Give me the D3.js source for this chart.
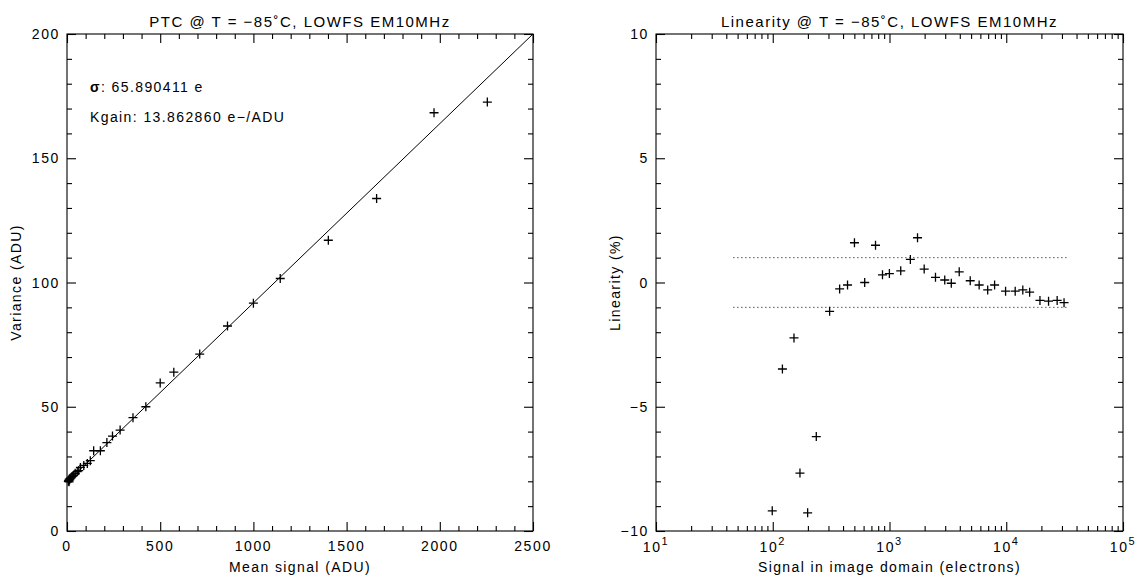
<!DOCTYPE html>
<html><head><meta charset="utf-8">
<script src="https://cdn.jsdelivr.net/npm/d3@7"></script>
<style>
body{margin:0;background:#fff}
text{font-family:"Liberation Sans",Arial,sans-serif;fill:#000}
</style>
</head><body>
<svg id="c" width="1141" height="578"></svg>
<script>
// ---- data ----
const ptcMean = [7.1, 8.7, 11.0, 12.3, 14.4, 17.0, 22.0, 27.0, 31.5, 36.0, 44.0, 55.0, 63.0, 72.0, 90.0, 109, 125, 143, 179, 214, 244, 285, 354, 423, 500, 573, 712, 861, 1000, 1144, 1402, 1661, 1969, 2255];
const ptcVar = [20.0, 20.4, 19.8, 20.9, 20.6, 21.2, 21.4, 21.9, 22.1, 22.5, 23.2, 23.9, 24.3, 25.6, 26.4, 27.2, 28.3, 32.3, 32.3, 35.6, 38.2, 40.6, 45.6, 50.0, 59.6, 63.9, 71.2, 82.5, 91.7, 101.6, 117.0, 133.8, 168.3, 172.6];
const linSignal = [99, 121, 152, 171, 199, 236, 307, 374, 437, 501, 613, 759, 871, 998, 1248, 1509, 1738, 1982, 2477, 2973, 3383, 3955, 4914, 5859, 6936, 7947, 9867, 11930, 13860, 15860, 19440, 23030, 27290, 31260];
const linPct = [-9.19, -3.48, -2.23, -7.67, -9.27, -6.2, -1.16, -0.26, -0.10, 1.6, 0.0, 1.5, 0.31, 0.36, 0.47, 0.93, 1.8, 0.54, 0.21, 0.10, -0.03, 0.43, 0.07, -0.10, -0.30, -0.10, -0.35, -0.35, -0.30, -0.39, -0.72, -0.75, -0.72, -0.81];
const ptcXTicks = [0, 500, 1000, 1500, 2000, 2500];
const ptcYTicks = [0, 50, 100, 150, 200];
const linXTicks = [1e1, 1e2, 1e3, 1e4, 1e5];
const linYTicks = [-10, -5, 0, 5, 10];
const fitSigma = 65.890411;
const fitKgain = 13.862860;
const fitOffset = 19.66;
const tolLevels = [1, -1];
const tolRange = [46, 34500];
const titleL = "PTC @ T = \u221285\u02DAC, LOWFS EM10MHz";
const titleR = "Linearity @ T = \u221285\u02DAC, LOWFS EM10MHz";

(function () {
// ---- layout ----
const svg = d3.select("#c");
const yTop = 34, yBot = 531;
const L = {x0: 67, x1: 533}, R = {x0: 656, x1: 1123};
const MAJ = 9, MIN = 5;
const minus = s => String(s).replace("-", "\u2212");

const xL = d3.scaleLinear().domain([0, 2500]).range([L.x0, L.x1]);
const yL = d3.scaleLinear().domain([0, 200]).range([yBot, yTop]);
const xR = d3.scaleLog().domain([1e1, 1e5]).range([R.x0, R.x1]);
const yR = d3.scaleLinear().domain([-10, 10]).range([yBot, yTop]);

function frame(x0, x1) {
  svg.append("rect").attr("x", x0).attr("y", yTop).attr("width", x1 - x0).attr("height", yBot - yTop)
    .attr("fill", "none").attr("stroke", "#000").attr("stroke-width", 1.1);
}
function ticks(axisFn, scale, vals, size, tr) {
  const g = svg.append("g").attr("transform", tr)
    .call(axisFn(scale).tickValues(vals).tickSizeInner(-size).tickSizeOuter(0).tickFormat(""));
  g.select(".domain").remove();
  g.selectAll("line").attr("stroke", "#000").attr("stroke-width", 1.1);
}
const lblStyle = s => s.attr("font-size", 14).attr("letter-spacing", 1.6);

// ---------- Left PTC ----------
frame(L.x0, L.x1);
const xMinL = d3.range(0, 2501, 100).filter(v => v % 500);
const yMinL = d3.range(0, 201, 10).filter(v => v % 50);
ticks(d3.axisBottom, xL, ptcXTicks, MAJ, `translate(0,${yBot})`);
ticks(d3.axisBottom, xL, xMinL, MIN, `translate(0,${yBot})`);
ticks(d3.axisTop, xL, ptcXTicks, MAJ, `translate(0,${yTop})`);
ticks(d3.axisTop, xL, xMinL, MIN, `translate(0,${yTop})`);
ticks(d3.axisLeft, yL, ptcYTicks, MAJ, `translate(${L.x0},0)`);
ticks(d3.axisLeft, yL, yMinL, MIN, `translate(${L.x0},0)`);
ticks(d3.axisRight, yL, ptcYTicks, MAJ, `translate(${L.x1},0)`);
ticks(d3.axisRight, yL, yMinL, MIN, `translate(${L.x1},0)`);

svg.append("g").selectAll("text").data(ptcXTicks).join("text")
  .attr("x", d => xL(d)).attr("y", yBot + 20).attr("text-anchor", "middle").text(d => d).call(lblStyle);
svg.append("g").selectAll("text").data(ptcYTicks).join("text")
  .attr("x", L.x0 - 7).attr("y", d => yL(d) + 5).attr("text-anchor", "end").text(d => d).call(lblStyle);

// fit line
svg.append("clipPath").attr("id", "clipL").append("rect")
  .attr("x", L.x0).attr("y", yTop).attr("width", L.x1 - L.x0).attr("height", yBot - yTop);
svg.append("path").attr("clip-path", "url(#clipL)")
  .attr("d", d3.line().x(d => xL(d)).y(d => yL(fitOffset + d / fitKgain))([0, 2500]))
  .attr("stroke", "#000").attr("stroke-width", 1).attr("fill", "none");

function plus(g, pts) {
  g.selectAll("path").data(pts).join("path")
    .attr("d", d => `M${d[0] - 4.5},${d[1]}h9M${d[0]},${d[1] - 4.5}v9`)
    .attr("stroke", "#000").attr("stroke-width", 1.3).attr("fill", "none");
}
plus(svg.append("g"), ptcMean.map((m, i) => [xL(m), yL(ptcVar[i])]));

svg.append("text").attr("x", (L.x0 + L.x1) / 2).attr("y", 27).attr("text-anchor", "middle")
  .attr("font-size", 15).attr("letter-spacing", 1.5).text(titleL);
svg.append("text").attr("x", (L.x0 + L.x1) / 2).attr("y", 572).attr("text-anchor", "middle")
  .attr("font-size", 14).attr("letter-spacing", 1.4).text("Mean signal (ADU)");
svg.append("text").attr("transform", `translate(21,${(yTop + yBot) / 2}) rotate(-90)`).attr("text-anchor", "middle")
  .attr("font-size", 14).attr("letter-spacing", 1.4).text("Variance (ADU)");

const ann = svg.append("g").attr("font-size", 14).attr("letter-spacing", 1.4);
const t1 = ann.append("text").attr("x", 90).attr("y", 92);
t1.append("tspan").attr("font-weight", "bold").text("\u03C3");
t1.append("tspan").text(": " + fitSigma.toFixed(6) + " e");
ann.append("text").attr("x", 90).attr("y", 122).text("Kgain: " + fitKgain.toFixed(6) + " e\u2212/ADU");

// ---------- Right Linearity ----------
frame(R.x0, R.x1);
const xMinR = [];
[1e1, 1e2, 1e3, 1e4].forEach(p => { for (let k = 2; k <= 9; k++) xMinR.push(p * k); });
const yMinR = d3.range(-10, 11, 1).filter(v => v % 5);
ticks(d3.axisBottom, xR, linXTicks, MAJ, `translate(0,${yBot})`);
ticks(d3.axisBottom, xR, xMinR, MIN, `translate(0,${yBot})`);
ticks(d3.axisTop, xR, linXTicks, MAJ, `translate(0,${yTop})`);
ticks(d3.axisTop, xR, xMinR, MIN, `translate(0,${yTop})`);
ticks(d3.axisLeft, yR, linYTicks, MAJ, `translate(${R.x0},0)`);
ticks(d3.axisLeft, yR, yMinR, MIN, `translate(${R.x0},0)`);
ticks(d3.axisRight, yR, linYTicks, MAJ, `translate(${R.x1},0)`);
ticks(d3.axisRight, yR, yMinR, MIN, `translate(${R.x1},0)`);

const xl = svg.append("g").selectAll("text").data(linXTicks).join("text")
  .attr("x", d => xR(d)).attr("y", yBot + 21).attr("text-anchor", "middle").call(lblStyle);
xl.append("tspan").text("10");
xl.append("tspan").attr("dy", -7).attr("font-size", 11).text(d => Math.round(Math.log10(d)));
svg.append("g").selectAll("text").data(linYTicks).join("text")
  .attr("x", R.x0 - 7).attr("y", d => yR(d) + 5).attr("text-anchor", "end").text(d => minus(d)).call(lblStyle);

svg.append("g").selectAll("path").data(tolLevels).join("path")
  .attr("d", d => d3.line()([[xR(tolRange[0]), yR(d)], [xR(tolRange[1]), yR(d)]]))
  .attr("stroke", "#000").attr("stroke-width", 1).attr("stroke-dasharray", "1,3");

plus(svg.append("g"), linSignal.map((s, i) => [xR(s), yR(linPct[i])]));

svg.append("text").attr("x", (R.x0 + R.x1) / 2).attr("y", 27).attr("text-anchor", "middle")
  .attr("font-size", 15).attr("letter-spacing", 1.5).text(titleR);
svg.append("text").attr("x", (R.x0 + R.x1) / 2).attr("y", 572).attr("text-anchor", "middle")
  .attr("font-size", 14).attr("letter-spacing", 1.4).text("Signal in image domain (electrons)");
svg.append("text").attr("transform", `translate(620,${(yTop + yBot) / 2}) rotate(-90)`).attr("text-anchor", "middle")
  .attr("font-size", 14).attr("letter-spacing", 1.4).text("Linearity (%)");
})();
</script>
</body></html>
